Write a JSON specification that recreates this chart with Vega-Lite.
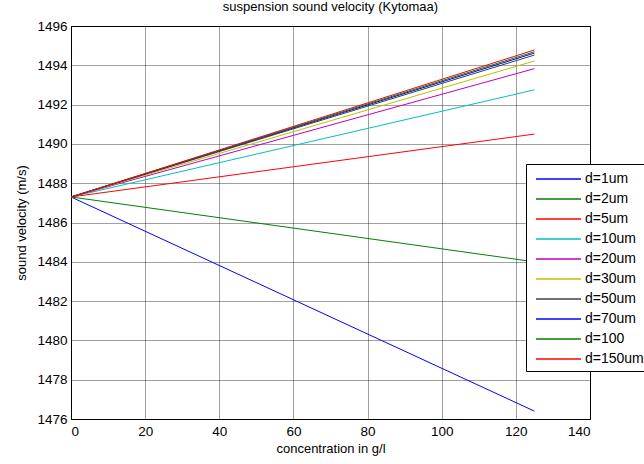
{
  "$schema": "https://vega.github.io/schema/vega-lite/v6.json",
  "autosize": {"type": "none"},
  "padding": {"left": 71, "top": 26, "right": 54, "bottom": 45},
  "width": 519,
  "height": 393,
  "background": "white",
  "title": {
    "text": "suspension sound velocity (Kytomaa)",
    "fontSize": 13,
    "fontWeight": "normal",
    "font": "Liberation Sans",
    "color": "black",
    "offset": 5
  },
  "data": {
    "values": [
      {"d": "d=1um", "c": 0, "v": 1487.3},
      {"d": "d=1um", "c": 125, "v": 1476.4},
      {"d": "d=2um", "c": 0, "v": 1487.3},
      {"d": "d=2um", "c": 125, "v": 1484.0},
      {"d": "d=5um", "c": 0, "v": 1487.3},
      {"d": "d=5um", "c": 125, "v": 1490.5},
      {"d": "d=10um", "c": 0, "v": 1487.3},
      {"d": "d=10um", "c": 125, "v": 1492.75},
      {"d": "d=20um", "c": 0, "v": 1487.3},
      {"d": "d=20um", "c": 125, "v": 1493.83},
      {"d": "d=30um", "c": 0, "v": 1487.3},
      {"d": "d=30um", "c": 125, "v": 1494.22},
      {"d": "d=50um", "c": 0, "v": 1487.3},
      {"d": "d=50um", "c": 125, "v": 1494.52},
      {"d": "d=70um", "c": 0, "v": 1487.3},
      {"d": "d=70um", "c": 125, "v": 1494.62},
      {"d": "d=100", "c": 0, "v": 1487.3},
      {"d": "d=100", "c": 125, "v": 1494.69},
      {"d": "d=150um", "c": 0, "v": 1487.3},
      {"d": "d=150um", "c": 125, "v": 1494.78}
    ]
  },
  "mark": {"type": "line", "strokeWidth": 1, "clip": true},
  "encoding": {
    "x": {
      "field": "c",
      "type": "quantitative",
      "title": "concentration in g/l",
      "scale": {"domain": [0, 140], "nice": false, "zero": false},
      "axis": {"values": [0, 20, 40, 60, 80, 100, 120, 140], "format": "d", "titlePadding": 5, "labelPadding": 5}
    },
    "y": {
      "field": "v",
      "type": "quantitative",
      "title": "sound velocity (m/s)",
      "scale": {"domain": [1476, 1496], "nice": false, "zero": false},
      "axis": {"values": [1476, 1478, 1480, 1482, 1484, 1486, 1488, 1490, 1492, 1494, 1496], "format": "d", "labelPadding": 4, "titlePadding": 8}
    },
    "color": {
      "field": "d",
      "type": "nominal",
      "sort": ["d=1um", "d=2um", "d=5um", "d=10um", "d=20um", "d=30um", "d=50um", "d=70um", "d=100", "d=150um"],
      "scale": {
        "domain": ["d=1um", "d=2um", "d=5um", "d=10um", "d=20um", "d=30um", "d=50um", "d=70um", "d=100", "d=150um"],
        "range": ["#0000ff", "#008000", "#ff0000", "#00bfbf", "#bf00bf", "#bfbf00", "#404040", "#0000ff", "#008000", "#ff0000"]
      },
      "legend": {
        "title": null,
        "orient": "none",
        "legendX": 455,
        "legendY": 138,
        "fillColor": "white",
        "strokeColor": "black",
        "padding": 5,
        "rowPadding": 3,
        "symbolType": "M-1,0H4",
        "symbolSize": 324,
        "symbolStrokeWidth": 1.5,
        "symbolOffset": 4,
        "labelOffset": 30,
        "labelFontSize": 14,
        "labelFont": "Liberation Sans",
        "labelColor": "black"
      }
    }
  },
  "config": {
    "view": {"stroke": "black", "strokeWidth": 1},
    "axis": {
      "domainColor": "black",
      "ticks": false,
      "grid": true,
      "gridColor": "black",
      "gridDash": [1, 1],
      "gridOpacity": 0.75,
      "labelFont": "Liberation Sans",
      "labelFontSize": 13.5,
      "labelColor": "black",
      "titleFont": "Liberation Sans",
      "titleFontSize": 13,
      "titleFontWeight": "normal",
      "titleColor": "black"
    }
  }
}
